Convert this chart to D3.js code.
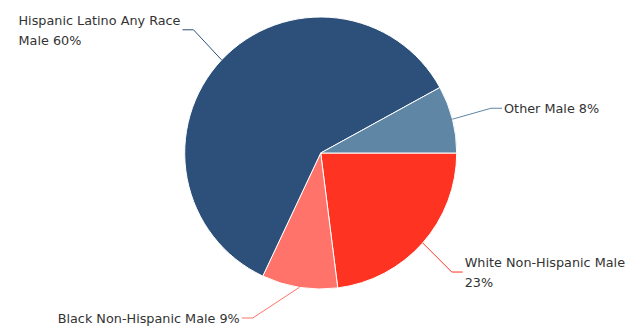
<!DOCTYPE html>
<html>
<head>
<meta charset="utf-8">
<script src="https://cdn.jsdelivr.net/npm/d3@7"></script>
<style>
  body { margin: 0; background: #fff; }
  svg text { font-family: "DejaVu Sans", sans-serif; font-size: 12.8px; fill: #333; }
</style>
</head>
<body>
<div class="chart"></div>
<script>
// slices in drawing order, clockwise from 3 o'clock
const labels = ['White Non-Hispanic Male', 'Black Non-Hispanic Male', 'Hispanic Latino Any Race Male', 'Other Male'];
const values = [23, 9, 60, 8];
const colors = ['#ff3322', '#ff736b', '#2c5079', '#6086a6'];

const W = 644, H = 326;
const cx = 320.7, cy = 153, r = 136;
const labelR = 180;

const svg = d3.select('.chart')
    .append('svg')
    .attr('width', W)
    .attr('height', H);

const g = svg.append('g')
    .attr('transform', `translate(${cx}, ${cy})`);

// d3 angles start at 12 o'clock, chart starts at 3 o'clock
const pie = d3.pie()
    .sort(null)
    .startAngle(Math.PI / 2)
    .endAngle(Math.PI / 2 + 2 * Math.PI)
    .value(d => d);

const arc = d3.arc()
    .innerRadius(0)
    .outerRadius(r);

const arcs = pie(values);

g.selectAll('path.slice')
    .data(arcs)
    .enter()
    .append('path')
    .attr('class', 'slice')
    .attr('d', arc)
    .attr('fill', (d, i) => colors[i])
    .attr('stroke', '#fff')
    .attr('stroke-width', 1)
    .attr('stroke-linejoin', 'round');

// labels with connectors
arcs.forEach((d, i) => {
    const mid = (d.startAngle + d.endAngle) / 2;
    // convert to screen angle (0 = east, clockwise)
    const a = mid - Math.PI / 2;
    const ex = Math.cos(a) * r, ey = Math.sin(a) * r;
    const right = Math.cos(a) >= 0;

    let ly = Math.sin(a) * labelR;
    ly = Math.min(ly, H - 8 - cy);
    const lx = (right ? 1 : -1) * (Math.sqrt(Math.max(labelR * labelR - ly * ly, 0)) + 7);
    const bx = lx + (right ? -11 : 11);

    g.append('path')
        .attr('d', d3.line()([[ex, ey], [bx, ly], [lx, ly]]))
        .attr('fill', 'none')
        .attr('stroke', colors[i])
        .attr('stroke-width', 1);

    const text = g.append('text');

    // word wrap to the space left before the chart edge
    const maxW = right ? (W - cx - lx - 10) : (cx + lx - 10);
    const words = `${labels[i]} ${values[i]}%`.split(' ');
    const lines = [];
    let cur = [];
    let blockW = 0;
    const probe = text.append('tspan');
    const measure = s => { probe.text(s); return probe.node().getComputedTextLength(); };
    words.forEach(w => {
        const test = cur.concat(w).join(' ');
        if (measure(test) > maxW && cur.length) {
            lines.push(cur.join(' '));
            cur = [w];
        } else {
            cur.push(w);
        }
    });
    lines.push(cur.join(' '));
    lines.forEach(t => { blockW = Math.max(blockW, measure(t)); });
    probe.remove();

    // block sits next to the connector, lines left aligned inside it
    const tx = right ? lx + 2 : lx - 2 - blockW;
    const lineH = 20;
    const y0 = ly + 5 - (lines.length - 1) * lineH / 2;
    lines.forEach((t, k) => {
        text.append('tspan')
            .attr('x', tx)
            .attr('y', y0 + k * lineH)
            .text(t);
    });
});
</script>
</body>
</html>
